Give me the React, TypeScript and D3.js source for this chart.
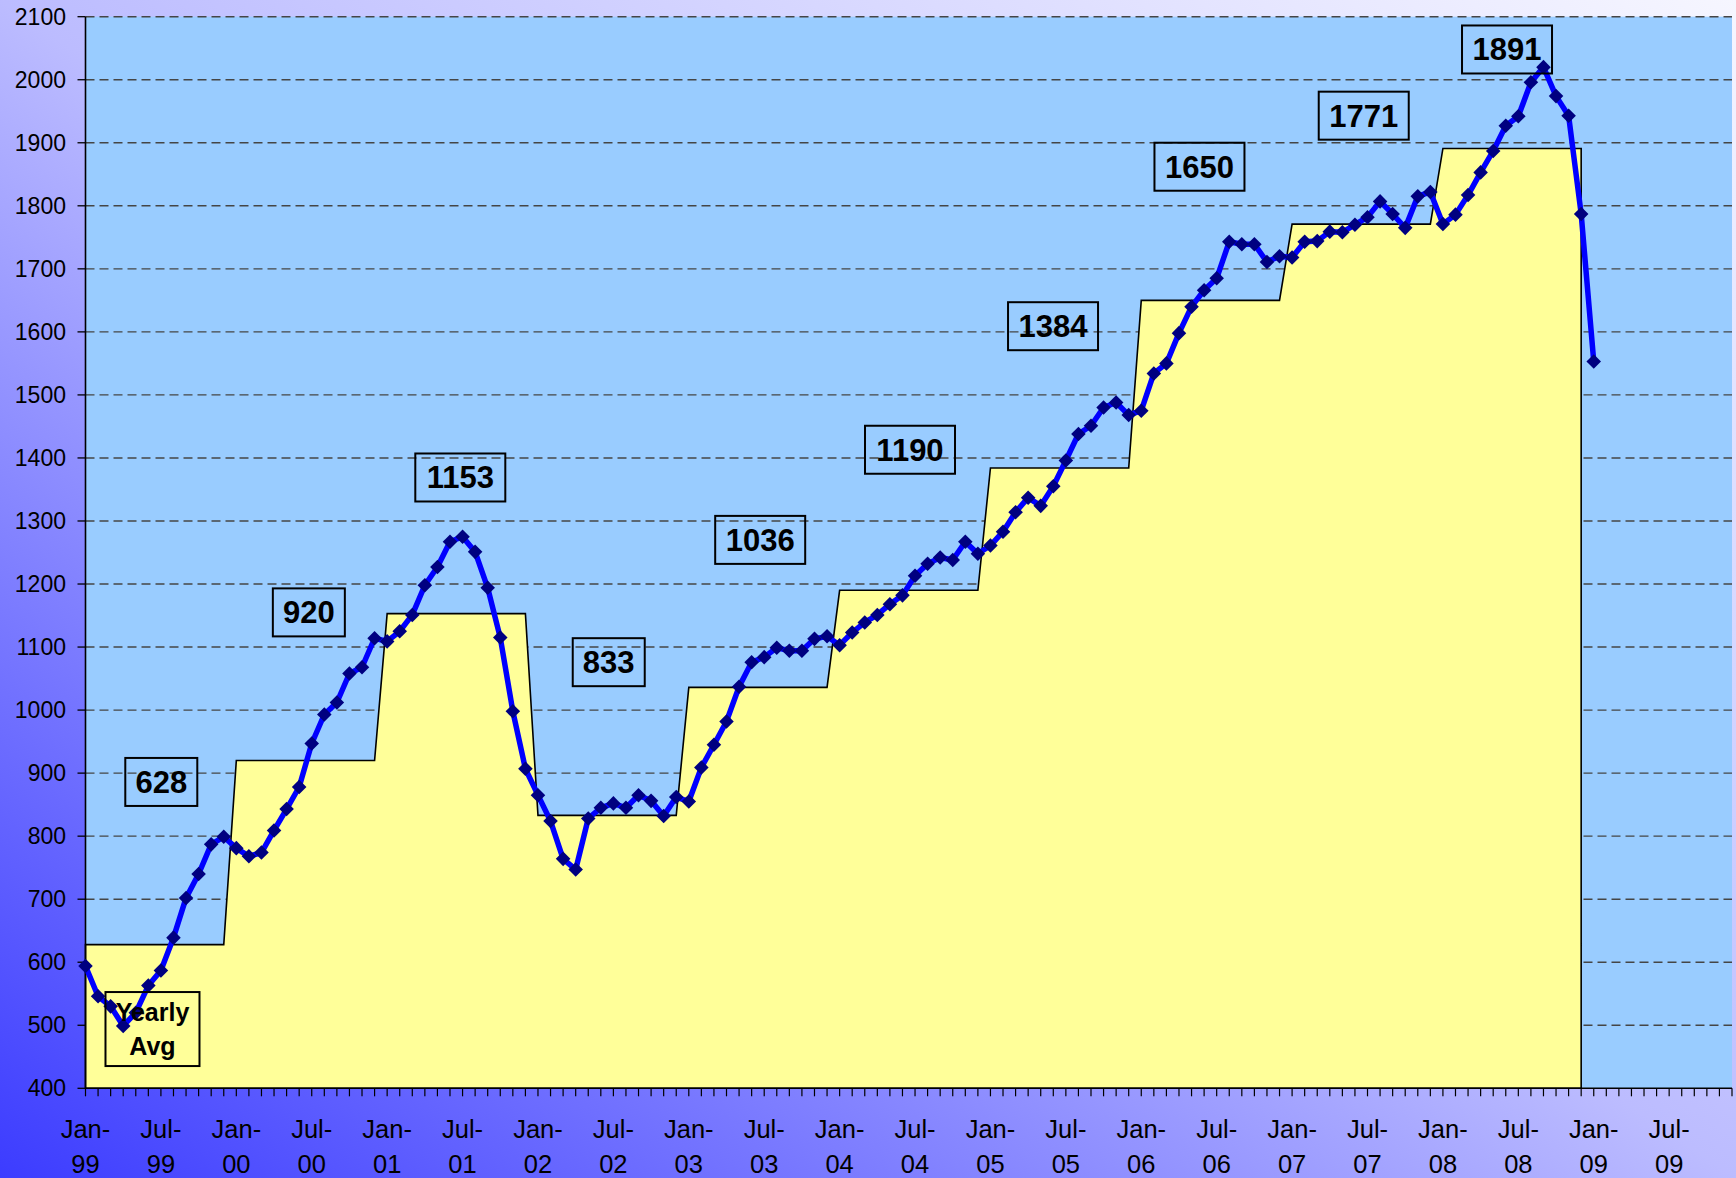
import React from 'react';
import * as d3 from 'd3';

const W = 1736;
const H = 1178;

// Monthly values, Jan-99 .. Jan-09
const monthlyValues = [
  594, 546, 530, 499, 520, 563, 587, 639, 702, 740, 787, 799,
  781, 768, 774, 809, 843, 878, 947, 993, 1012, 1058, 1068, 1114,
  1109, 1125, 1151, 1198, 1227, 1267, 1275, 1251, 1194, 1115, 998, 907,
  865, 824, 764, 747, 828, 845, 852, 845, 865, 856, 832, 862,
  855, 909, 945, 982, 1037, 1076, 1084, 1099, 1094, 1094, 1113, 1117,
  1103, 1123, 1139, 1151, 1168, 1182, 1213, 1232, 1242, 1238, 1267, 1248,
  1261, 1283, 1314, 1337, 1324, 1355, 1396, 1438, 1451, 1480, 1488, 1468,
  1475, 1534, 1550, 1598, 1640, 1666, 1685, 1743, 1739, 1739, 1711, 1720,
  1718, 1743, 1744, 1759, 1758, 1770, 1782, 1807, 1787, 1765, 1815, 1822,
  1771, 1786, 1817, 1853, 1887, 1927, 1942, 1996, 2020, 1974, 1943, 1787,
  1553,
];

// Yearly averages 1999 .. 2008
const yearlyYears = [1999, 2000, 2001, 2002, 2003, 2004, 2005, 2006, 2007, 2008];
const yearlyAvgValues = [628, 920, 1153, 833, 1036, 1190, 1384, 1650, 1771, 1891];

const yTicks = d3.range(400, 2101, 100);
const xMonthCount = 132; // Jan-99 .. Dec-09
const xLabelStep = 6;

// Annotation boxes: text lines, anchored at (month index, value)
const annotations = [
  { lines: ['628'], m: 6.03, v: 886 },
  { lines: ['920'], m: 17.77, v: 1155 },
  { lines: ['1153'], m: 29.82, v: 1369 },
  { lines: ['833'], m: 41.63, v: 1076 },
  { lines: ['1036'], m: 53.68, v: 1270 },
  { lines: ['1190'], m: 65.6, v: 1413 },
  { lines: ['1384'], m: 76.98, v: 1609 },
  { lines: ['1650'], m: 88.63, v: 1862 },
  { lines: ['1771'], m: 101.7, v: 1943 },
  { lines: ['1891'], m: 113.1, v: 2048 },
  { lines: ['Yearly', 'Avg'], m: 5.33, v: 494 },
];

const FONT = '"Liberation Sans", Arial, Helvetica, sans-serif';

export default function App() {
  const left = 85.5;
  const right = 1732;
  const top = 16.7;
  const bottom = 1088.3;

  const x = d3.scaleLinear().domain([0, xMonthCount - 1]).range([left, right]);
  const y = d3.scaleLinear().domain([400, 2100]).range([bottom, top]);

  const yearlySeries: number[] = [];
  yearlyYears.forEach((yr, i) => {
    for (let k = 0; k < 12; k++) yearlySeries.push(yearlyAvgValues[i]);
  });

  const areaGen = d3
    .area<number>()
    .x((_, i) => x(i))
    .y0(y(400))
    .y1((d) => y(d));
  const lineGen = d3
    .line<number>()
    .x((_, i) => x(i))
    .y((d) => y(d));

  const start = new Date(1999, 0, 1);
  const fmtMon = d3.timeFormat('%b-');
  const fmtYr = d3.timeFormat('%y');
  const labelIdx = d3.range(0, xMonthCount, xLabelStep);

  const diamond = d3.symbol().type(d3.symbolDiamond2).size(135)();

  return (
    <svg
      width={W}
      height={H}
      style={{ position: 'absolute', left: 0, top: 0, display: 'block' }}
      fontFamily={FONT}
    >
      <defs>
        <linearGradient id="bg" x1="0" y1="1" x2="1" y2="0">
          <stop offset="0" stopColor="#3c3cff" />
          <stop offset="0.5" stopColor="#bcbcff" />
          <stop offset="1" stopColor="#f6f6ff" />
        </linearGradient>
      </defs>
      <rect x={0} y={0} width={W} height={H} fill="url(#bg)" />
      <rect x={left} y={top} width={right - left} height={bottom - top} fill="#99CCFF" />

      {yTicks.filter((t) => t > 400).map((t) => (
        <line
          key={'g' + t}
          x1={left}
          x2={right}
          y1={y(t)}
          y2={y(t)}
          stroke="#454545"
          strokeWidth={1.4}
          strokeDasharray="9 5"
        />
      ))}

      <path d={areaGen(yearlySeries) || ''} fill="#FFFF99" stroke="#000" strokeWidth={1.6} />

      {/* axes */}
      <line x1={left} x2={left} y1={top} y2={bottom} stroke="#000" strokeWidth={1.6} />
      <line x1={left} x2={right} y1={bottom} y2={bottom} stroke="#000" strokeWidth={1.6} />
      {yTicks.map((t) => (
        <g key={'yt' + t}>
          <line x1={left - 8} x2={left} y1={y(t)} y2={y(t)} stroke="#000" strokeWidth={1.3} />
          <text x={66} y={y(t) + 8} textAnchor="end" fontSize={23} fill="#000">
            {t}
          </text>
        </g>
      ))}
      {d3.range(0, xMonthCount).map((i) => (
        <line key={'xt' + i} x1={x(i)} x2={x(i)} y1={bottom} y2={bottom + 8} stroke="#000" strokeWidth={1.2} />
      ))}
      {labelIdx.map((i) => {
        const d = d3.timeMonth.offset(start, i);
        return (
          <text key={'xl' + i} x={x(i)} textAnchor="middle" fontSize={25.5} fill="#000">
            <tspan x={x(i)} y={1138}>{fmtMon(d)}</tspan>
            <tspan x={x(i)} y={1173}>{fmtYr(d)}</tspan>
          </text>
        );
      })}

      <path d={lineGen(monthlyValues) || ''} fill="none" stroke="#0000FF" strokeWidth={5.5} strokeLinejoin="round" />
      {monthlyValues.map((v, i) => (
        <path key={'m' + i} d={diamond || ''} transform={`translate(${x(i)},${y(v)})`} fill="#000080" />
      ))}

      {annotations.map((a, k) => {
        const cx = x(a.m);
        const cy = y(a.v);
        const multi = a.lines.length > 1;
        const fs = multi ? 25 : 31;
        const maxLen = d3.max(a.lines, (s) => s.length) || 1;
        const w = multi ? 94 : 18 + maxLen * 18;
        const h = multi ? 74 : 48;
        return (
          <g key={'a' + k}>
            <rect x={cx - w / 2} y={cy - h / 2} width={w} height={h} fill="none" stroke="#000" strokeWidth={2} />
            <text textAnchor="middle" fontSize={fs} fontWeight="bold" fill="#000">
              {a.lines.map((s, j) => (
                <tspan key={j} x={cx} y={multi ? cy - 8 + j * 34 : cy + 11}>
                  {s}
                </tspan>
              ))}
            </text>
          </g>
        );
      })}
    </svg>
  );
}
